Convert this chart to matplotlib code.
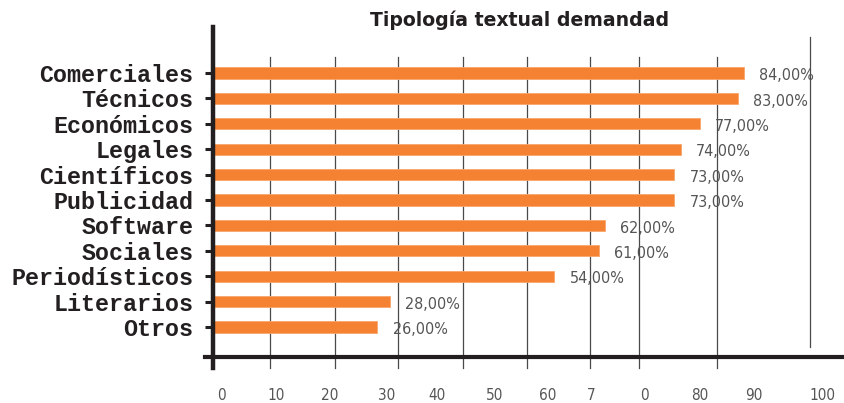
import matplotlib.pyplot as plt
import numpy as np

categories = ['Comerciales', 'Técnicos', 'Económicos', 'Legales', 'Científicos',
              'Publicidad', 'Software', 'Sociales', 'Periodísticos', 'Literarios', 'Otros']
values = [84, 83, 77, 74, 73, 73, 62, 61, 54, 28, 26]

# the original axis labels are oddly placed and partly split ("7", "0")
tick_labels = ['0', '10', '20', '30', '40', '50', '60', '7', '0', '80', '90', '100']
tick_pos = [1.4, 10, 18.4, 27.5, 35.4, 44.6, 53, 59.8, 68.2, 77, 85.6, 96.4]
grid_pos = [9.0, 19.3, 29.3, 39.6, 49.7, 59.7, 67.4, 79.7, 94.5]

orange = '#F58233'
dark = '#231F20'
narrow = dict(family='DejaVu Sans', stretch='condensed')

fig = plt.figure(figsize=(8.45, 4.03), dpi=100)
ax = fig.add_axes([213 / 845, 46 / 403, 632 / 845, 330 / 403])

y = np.arange(len(categories))
ax.barh(y, values, height=0.44, color=orange, edgecolor='#F9A66C', linewidth=0.6, zorder=3)

# irregular vertical gridlines
for i, gx in enumerate(grid_pos):
    top = 0.91 if i < len(grid_pos) - 1 else 0.97
    bot = -0.033 if i < len(grid_pos) - 1 else 0.03
    ax.plot([gx, gx], [bot, top], color='#4a4a4a', lw=0.9,
            transform=ax.get_xaxis_transform(), clip_on=False, zorder=1)

for yi, v in zip(y, values):
    ax.annotate(f'{v},00%', (v, yi), xytext=(11, -2), textcoords='offset points',
                va='center', ha='left', fontsize=11.5, color='#555555', **narrow)

ax.set_xlim(0, 100)
ax.set_ylim(11.18, -1.81)

for s in ax.spines.values():
    s.set_visible(False)
ax.plot([0, 0], [-0.033, 1.0], color=dark, lw=3.2, transform=ax.transAxes,
        clip_on=False, zorder=4)
ax.plot([-0.0127, 1.0], [0, 0], color=dark, lw=3, transform=ax.transAxes,
        clip_on=False, zorder=4)

ax.set_yticks(y)
ax.set_yticklabels(categories, family='Liberation Mono', fontweight='bold',
                   fontsize=16.8, color=dark)
ax.tick_params(axis='y', length=6, width=2.2, color=dark, pad=8)

ax.set_xticks(tick_pos)
ax.set_xticklabels(tick_labels, fontsize=11, color='#555555', **narrow)
ax.tick_params(axis='x', length=0, pad=22)

fig.text(520 / 845, 1 - 20 / 403, 'Tipología textual demandad', ha='center', va='center',
         fontsize=13.6, fontweight='bold', color=dark)

fig.savefig('out.png', dpi=100)
